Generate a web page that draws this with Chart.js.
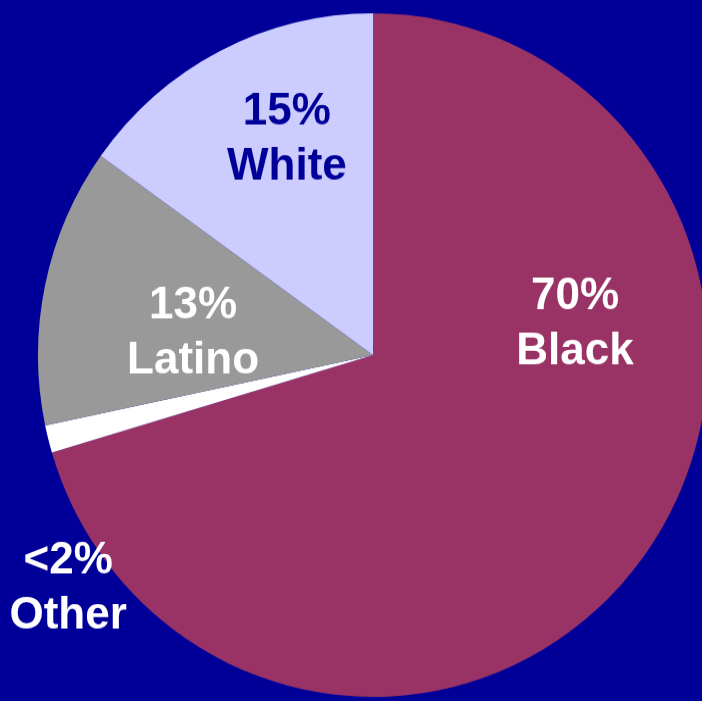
<!DOCTYPE html>
<html lang="en">
<head>
    <meta charset="UTF-8">
    <title>Population Pie</title>
    <style>
        html, body {
            margin: 0;
            padding: 0;
            width: 702px;
            height: 701px;
            overflow: hidden;
            background-color: #000099;
        }
        canvas {
            position: absolute;
            left: 0;
            top: 0;
            /* the original pie is a touch taller than wide */
            transform: scaleY(1.0203);
            transform-origin: 0 0;
        }
    </style>
</head>
<body>
    <canvas id="pieChart" width="740" height="690"></canvas>

    <script src="https://cdn.jsdelivr.net/npm/chart.js"></script>
    <script>
        // Slices in clockwise order starting at 12 o'clock
        const categories = ['Black', 'Other', 'Latino', 'White'];
        const shares = [70.4, 1.3, 13.2, 15.1];
        const shareLabels = ['70%', '<2%', '13%', '15%'];

        const sliceColors = ['#993366', '#ffffff', '#999999', '#ccccff'];
        const textColors = ['#ffffff', '#ffffff', '#ffffff', '#000099'];
        // label centre, in units of the pie radius relative to the pie centre
        const labelSpots = [[0.603, -0.091], [-0.91, 0.684], [-0.537, -0.064], [-0.257, -0.629]];

        const pieLabels = {
            id: 'pieLabels',
            afterDatasetsDraw(chart) {
                const ctx = chart.ctx;
                const arc = chart.getDatasetMeta(0).data[0];
                const r = arc.outerRadius;
                ctx.save();
                ctx.font = 'bold 44px "Liberation Sans", Arial, sans-serif';
                ctx.textAlign = 'center';
                ctx.textBaseline = 'middle';
                categories.forEach((name, i) => {
                    const x = arc.x + labelSpots[i][0] * r;
                    const y = arc.y + labelSpots[i][1] * r;
                    ctx.fillStyle = textColors[i];
                    ctx.fillText(shareLabels[i], x, y - 27);
                    ctx.fillText(name, x, y + 27);
                });
                ctx.restore();
            }
        };

        const ctx = document.getElementById('pieChart').getContext('2d');
        new Chart(ctx, {
            type: 'pie',
            data: {
                labels: categories,
                datasets: [{
                    data: shares,
                    backgroundColor: sliceColors,
                    borderWidth: 0
                }]
            },
            options: {
                responsive: false,
                animation: false,
                layout: {
                    padding: { left: 38, top: 13, right: 32, bottom: 7 }
                },
                plugins: {
                    legend: { display: false },
                    tooltip: { enabled: false }
                }
            },
            plugins: [pieLabels]
        });
    </script>
</body>
</html>
